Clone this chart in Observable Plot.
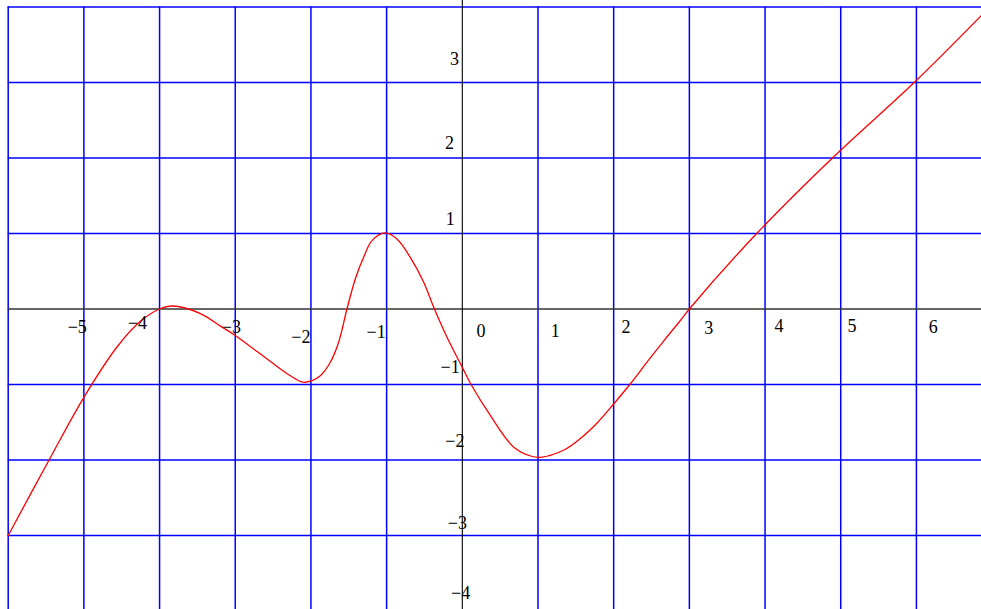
<!DOCTYPE html>
<html>
<head>
<meta charset="utf-8">
<script src="https://cdn.jsdelivr.net/npm/d3@7"></script>
<script src="https://cdn.jsdelivr.net/npm/@observablehq/plot@0.6"></script>
<style>
  html, body { margin: 0; padding: 0; background: #fff; }
  svg { display: block; }
</style>
</head>
<body>
<div id="chart"></div>
<script>
// Curve samples (x, y)
const curveX = [-6, -5.46, -5.0, -4.56, -4.25, -4.0, -3.83, -3.46, -3.19, -3.0, -2.53, -2.31, -2.134, -2.07, -1.876, -1.744, -1.634, -1.524, -1.414, -1.304, -1.193, -1.018, -0.864, -0.687, -0.51, -0.378, -0.202, 0.0, 0.11, 0.37, 0.68, 0.903, 1.03, 1.343, 1.563, 1.784, 2.0, 2.224, 2.445, 2.665, 2.886, 3.0, 3.89, 4.89, 5.97, 6.86];
const curveY = [-3.0, -2.0, -1.17, -0.50, -0.16, 0.0, 0.04, -0.06, -0.23, -0.35, -0.70, -0.86, -0.962, -0.97, -0.883, -0.706, -0.44, 0.0, 0.397, 0.684, 0.905, 1.007, 0.927, 0.684, 0.353, 0.022, -0.375, -0.773, -0.99, -1.41, -1.83, -1.947, -1.964, -1.868, -1.713, -1.506, -1.258, -0.987, -0.698, -0.419, -0.146, 0.0, 1.0, 2.0, 3.0, 3.89];

// Grid values
const xGrid = [-6, -5, -4, -3, -2, -1, 1, 2, 3, 4, 5, 6];
const yGrid = [-3, -2, -1, 1, 2, 3, 4];

// Tick labels and where they sit (in data units)
const xTickLabels = ["−5", "−4", "−3", "−2", "−1", "0", "1", "2", "3", "4", "5", "6"];
const xTickLabelAtX = [-5.088, -4.291, -3.051, -2.133, -1.139, 0.248, 1.229, 2.162, 3.255, 4.184, 5.149, 6.222];
const xTickLabelAtY = [-0.236, -0.192, -0.236, -0.368, -0.302, -0.301, -0.301, -0.241, -0.254, -0.228, -0.228, -0.236];

const yTickLabels = ["3", "2", "1", "−1", "−2", "−3", "−4"];
const yTickLabelAtX = [-0.104, -0.170, -0.159, -0.161, -0.099, -0.066, -0.022];
const yTickLabelAtY = [3.302, 2.195, 1.189, -0.766, -1.752, -2.834, -3.768];

const curve = curveX.map((x, i) => ({x, y: curveY[i]}));
const xLabels = xTickLabels.map((t, i) => ({t, x: xTickLabelAtX[i], y: xTickLabelAtY[i]}));
const yLabels = yTickLabels.map((t, i) => ({t, x: yTickLabelAtX[i], y: yTickLabelAtY[i]}));

const XMIN = -6, XMAX = 6.86, YMIN = -4, YMAX = 4;

const chart = Plot.plot({
  width: 981,
  height: 609,
  x: {domain: [XMIN, XMAX], range: [7.7, 981], axis: null},
  y: {domain: [YMIN, YMAX], range: [610.5, 6.5], axis: null},
  style: {fontFamily: "'Liberation Serif', 'Times New Roman', serif", fontSize: "18px", background: "#fff", overflow: "hidden"},
  marks: [
    Plot.ruleX(xGrid, {x: d => d, y1: YMIN - 0.1, y2: YMAX, stroke: "#0000ff", strokeWidth: 1.5}),
    Plot.ruleY(yGrid, {y: d => d, x1: XMIN, x2: XMAX, stroke: "#0000ff", strokeWidth: 1.5}),
    Plot.ruleY([0], {y: d => d, x1: XMIN, x2: XMAX, stroke: "#333", strokeWidth: 1.3}),
    Plot.ruleX([0], {x: d => d, y1: YMIN - 0.1, y2: YMAX + 0.1, stroke: "#000", strokeWidth: 1.1}),
    Plot.line(curve, {x: "x", y: "y", stroke: "#ff0000", strokeWidth: 1.3, curve: "catmull-rom"}),
    Plot.text(xLabels, {x: "x", y: "y", text: "t", fill: "#000", fontSize: 18, textAnchor: "middle", lineAnchor: "middle"}),
    Plot.text(yLabels, {x: "x", y: "y", text: "t", fill: "#000", fontSize: 18, textAnchor: "middle", lineAnchor: "middle"})
  ]
});
document.getElementById("chart").appendChild(chart);
</script>
</body>
</html>
